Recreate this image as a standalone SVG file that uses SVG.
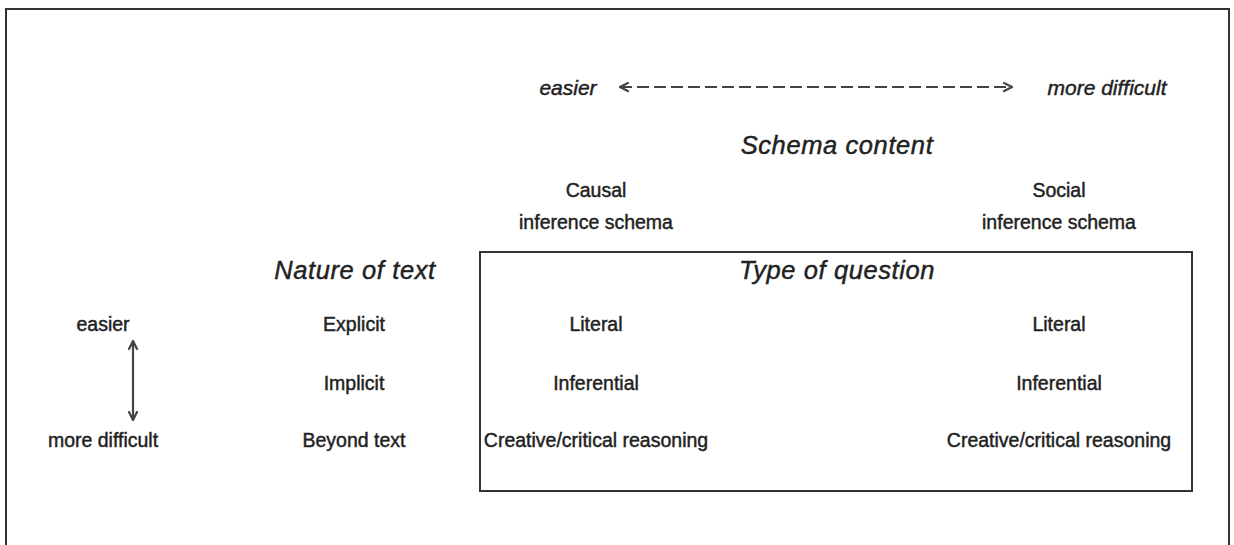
<svg xmlns="http://www.w3.org/2000/svg" width="1234" height="545" viewBox="0 0 1234 545">
  <style>
    text { font-family: "Liberation Sans", Arial, sans-serif; font-size: 19.5px; fill: #222; stroke: #222; stroke-width: 0.45; text-anchor: middle; }
    .it { font-style: italic; }
    .head { font-size: 25.5px; letter-spacing: 0.6px; }
    .scale { font-size: 21px; }
    .frame { fill: none; stroke: #333; stroke-width: 2; }
    .conn { stroke: #444; stroke-width: 2.2; fill: none; }
  </style>
  <defs>
    <marker id="head" viewBox="0 0 10 10" refX="9" refY="5" markerWidth="11" markerHeight="11" markerUnits="userSpaceOnUse" orient="auto-start-reverse">
      <path d="M1,1 L9,5 L1,9" fill="none" stroke="#444" stroke-width="2"/>
    </marker>
  </defs>
  <rect width="1234" height="545" fill="#fff"/>

  <!-- outer frame, open at the bottom -->
  <path class="frame" d="M6,560 V9 H1229 V560"/>

  <g id="connectors">
    <line class="conn" x1="620" y1="87" x2="1012" y2="87" stroke-dasharray="12,5" marker-start="url(#head)" marker-end="url(#head)"/>
    <line class="conn" x1="133" y1="341" x2="133" y2="420" marker-start="url(#head)" marker-end="url(#head)"/>
  </g>

  <g id="difficulty-scale">
    <text class="it scale" x="568" y="95">easier</text>
    <text class="it scale" x="1107" y="95">more difficult</text>
  </g>

  <g id="schema-content">
    <text class="it head" x="837" y="154">Schema content</text>
  </g>

  <g id="causal-schema">
    <text x="596" y="197">Causal</text>
    <text x="596" y="229">inference schema</text>
  </g>

  <g id="social-schema">
    <text x="1059" y="197">Social</text>
    <text x="1059" y="229">inference schema</text>
  </g>

  <g id="nature-of-text">
    <text class="it head" x="355" y="279">Nature of text</text>
    <text x="354" y="331">Explicit</text>
    <text x="354" y="390">Implicit</text>
    <text x="354" y="447">Beyond text</text>
  </g>

  <g id="text-difficulty">
    <text x="103" y="331">easier</text>
    <text x="103" y="447">more difficult</text>
  </g>

  <g id="question-type">
    <rect class="frame" x="480" y="252" width="712" height="239"/>
    <text class="it head" x="837" y="279">Type of question</text>
    <text x="596" y="331">Literal</text>
    <text x="596" y="390">Inferential</text>
    <text x="596" y="447">Creative/critical reasoning</text>
    <text x="1059" y="331">Literal</text>
    <text x="1059" y="390">Inferential</text>
    <text x="1059" y="447">Creative/critical reasoning</text>
  </g>
</svg>
